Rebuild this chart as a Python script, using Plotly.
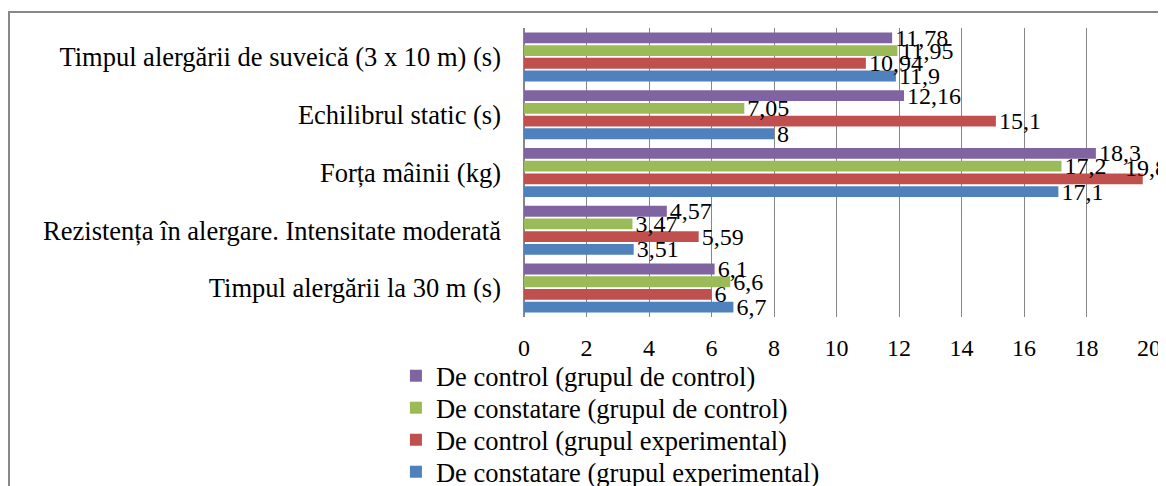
import plotly.graph_objects as go

categories = [
    "Timpul alergării la 30 m (s)",
    "Rezistența în alergare. Intensitate moderată",
    "Forța mâinii (kg)",
    "Echilibrul static (s)",
    "Timpul alergării de suveică (3 x 10 m) (s)",
]
series_names = [
    "De constatare (grupul experimental)",
    "De control (grupul experimental)",
    "De constatare (grupul de control)",
    "De control (grupul de control)",
]
constatare_exp = [6.7, 3.51, 17.1, 8, 11.9]
control_exp = [6, 5.59, 19.8, 15.1, 10.94]
constatare_ctrl = [6.6, 3.47, 17.2, 7.05, 11.95]
control_ctrl = [6.1, 4.57, 18.3, 12.16, 11.78]
x_ticks = [0, 2, 4, 6, 8, 10, 12, 14, 16, 18, 20]

colors = ["#4F81BD", "#C0504D", "#9BBB59", "#8064A2"]
series_values = [constatare_exp, control_exp, constatare_ctrl, control_ctrl]

FONT = "Times New Roman, Liberation Serif, DejaVu Serif, serif"
FS_CAT = 26.5
FS_TICK = 24
FS_LBL = 24
FS_LEG = 26.5
X_MAX = 20


def fmt(v):
    return f"{v:g}".replace(".", ",")


# separate legend per series so spacing can match the reference
legend_ids = ["legend4", "legend3", "legend2", "legend"]
legend_y = [0.0293, 0.0962, 0.1632, 0.2301]

fig = go.Figure()
edge_labels = []
for name, vals, col, lid in zip(series_names, series_values, colors, legend_ids):
    texts = []
    for v, c in zip(vals, categories):
        if v > X_MAX - 1:
            texts.append("")
            edge_labels.append((v, c, fmt(v)))
        else:
            texts.append(fmt(v))
    fig.add_trace(go.Bar(
        y=categories, x=vals, name=name, orientation="h",
        marker=dict(color=col, line=dict(width=0)),
        text=texts, textposition="outside",
        textfont=dict(family=FONT, size=FS_LBL, color="#000000"),
        cliponaxis=False, legend=lid,
    ))

# labels of bars that reach the right edge sit above-right of the bar end
for v, c, t in edge_labels:
    fig.add_annotation(
        x=v, y=c, xref="x", yref="y", text=t, showarrow=False,
        xanchor="center", yanchor="middle", xshift=3, yshift=5,
        font=dict(family=FONT, size=FS_LBL, color="#000000"),
    )

leg_common = dict(
    xref="container", yref="container", x=0.335,
    xanchor="left", yanchor="middle", orientation="v",
    font=dict(family=FONT, size=FS_LEG, color="#000000"),
    itemwidth=30, bgcolor="rgba(0,0,0,0)", borderwidth=0,
)

fig.update_layout(
    width=1158, height=478,
    margin=dict(l=516, r=17, t=20, b=169, autoexpand=False),
    paper_bgcolor="white", plot_bgcolor="white",
    barmode="group", bargap=0.12, bargroupgap=0.15,
    font=dict(family=FONT, size=FS_TICK, color="#000000"),
    showlegend=True,
    legend=dict(y=legend_y[3], **leg_common),
    legend2=dict(y=legend_y[2], **leg_common),
    legend3=dict(y=legend_y[1], **leg_common),
    legend4=dict(y=legend_y[0], **leg_common),
    uniformtext=dict(minsize=FS_LBL, mode="show"),
)
fig.update_xaxes(
    range=[0, X_MAX], tickvals=x_ticks, ticktext=[str(t) for t in x_ticks],
    showgrid=True, gridcolor="#868686", gridwidth=1,
    zeroline=True, zerolinecolor="#868686", zerolinewidth=1.5,
    showline=False, ticks="", ticklabelstandoff=14,
    tickfont=dict(family=FONT, size=FS_TICK),
)
fig.update_yaxes(
    categoryorder="array", categoryarray=categories,
    showgrid=False, showline=False, ticks="",
    ticklabelstandoff=22,
    tickfont=dict(family=FONT, size=FS_CAT),
)
fig.add_shape(
    type="rect", xref="paper", yref="paper",
    x0=-0.824, x1=1.3, y0=-1.0, y1=1.0554,
    line=dict(color="#888888", width=2), fillcolor="rgba(0,0,0,0)",
    layer="below",
)

fig.write_html("out.html")
